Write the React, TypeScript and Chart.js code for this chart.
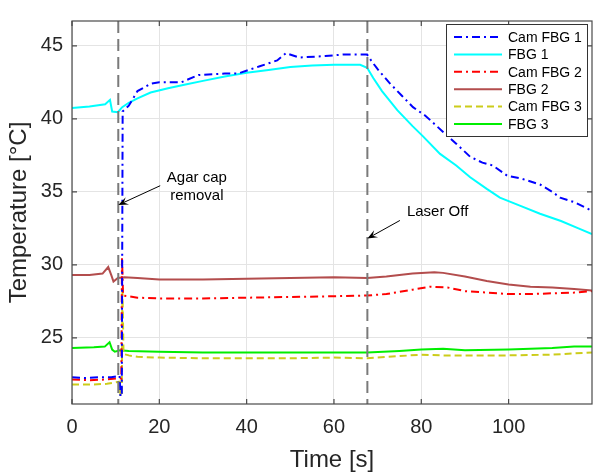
import React, { useEffect, useRef } from "react";
import { Chart, registerables } from "chart.js";
Chart.register(...registerables);

// ---- data (time [s], temperature [°C]) ----
const tCam1 = [0, 3, 6, 9, 10.9, 11.1, 11.4, 11.6, 13, 15, 18, 20, 25, 29, 35, 38, 43, 47, 49, 52, 58, 62, 67.6, 68.5, 70, 72.9, 75.5, 78.1, 81, 85, 88, 91.2, 94, 96.4, 99.7, 103, 107.2, 110, 111.8, 115, 119.1];
const vCam1 = [22.3, 22.25, 22.3, 22.3, 22.4, 21.0, 21.0, 40.5, 40.9, 41.9, 42.4, 42.5, 42.5, 43.0, 43.1, 43.1, 43.6, 44.0, 44.5, 44.2, 44.3, 44.4, 44.4, 44.0, 43.4, 42.4, 41.6, 40.8, 40.2, 39.1, 38.3, 37.4, 37.0, 36.8, 36.1, 35.9, 35.5, 35.0, 34.6, 34.3, 33.7];

const tFbg1 = [0, 4, 7.6, 8.7, 9.2, 10.5, 11.5, 13, 15, 18, 22, 26, 30, 35, 40, 45, 50, 55, 60, 66, 67.6, 69, 71, 74.5, 78, 80.4, 84.3, 88, 91.2, 95, 98, 103, 107.2, 112, 116, 119.1];
const vFbg1 = [40.75, 40.85, 41.0, 41.3, 40.5, 40.45, 40.8, 41.1, 41.4, 41.8, 42.1, 42.35, 42.6, 42.9, 43.15, 43.35, 43.55, 43.65, 43.7, 43.7, 43.5, 42.8, 41.9, 40.6, 39.5, 38.8, 37.6, 36.8, 36.0, 35.2, 34.6, 34.0, 33.5, 33.0, 32.5, 32.1];

const tCam2 = [0, 4, 8, 10.9, 11.3, 11.45, 11.7, 13, 15, 20, 30, 40, 50, 60, 67.6, 72, 78, 82, 86, 90, 95, 100, 105, 110, 115, 119.1];
const vCam2 = [22.15, 22.1, 22.15, 22.25, 22.2, 30.5, 27.9, 27.85, 27.75, 27.7, 27.7, 27.75, 27.8, 27.85, 27.9, 28.0, 28.3, 28.5, 28.45, 28.2, 28.1, 28.0, 28.0, 28.05, 28.1, 28.2];

const tFbg2 = [0, 4, 7, 8.3, 9.0, 9.5, 10.5, 12, 15, 20, 30, 40, 50, 60, 67.6, 72, 78, 83, 85, 90, 95, 100, 105, 110, 115, 119.1];
const vFbg2 = [29.3, 29.3, 29.4, 29.85, 29.3, 28.85, 29.1, 29.15, 29.1, 29.0, 29.0, 29.05, 29.1, 29.15, 29.1, 29.2, 29.4, 29.5, 29.45, 29.2, 28.9, 28.65, 28.5, 28.45, 28.35, 28.25];

const tCam3 = [0, 4, 8, 10.9, 11.1, 11.4, 11.55, 11.8, 13, 15, 20, 30, 40, 50, 60, 67.6, 75, 80, 85, 90, 100, 110, 119.1];
const vCam3 = [21.8, 21.8, 21.85, 22.0, 21.0, 21.0, 28.5, 23.9, 23.8, 23.7, 23.65, 23.6, 23.6, 23.6, 23.65, 23.6, 23.75, 23.85, 23.8, 23.8, 23.8, 23.85, 24.0];

const tFbg3 = [0, 5, 7.5, 8.6, 9.2, 9.8, 11, 13, 20, 30, 40, 50, 60, 67.6, 75, 80, 85, 90, 100, 110, 115, 119.1];
const vFbg3 = [24.3, 24.35, 24.4, 24.7, 24.2, 24.05, 24.15, 24.1, 24.05, 24.0, 24.0, 24.0, 24.0, 24.0, 24.1, 24.2, 24.25, 24.15, 24.2, 24.3, 24.4, 24.4];

const seriesNames = ["Cam FBG 1", "FBG 1", "Cam FBG 2", "FBG 2", "Cam FBG 3", "FBG 3"];
const xTicks = [0, 20, 40, 60, 80, 100];
const yTicks = [25, 30, 35, 40, 45];
const X_MIN = 0, X_MAX = 119.1, Y_MIN = 20.47, Y_MAX = 46.7;

// event markers (time [s])
const agarTime = 10.6;
const laserOffTime = 67.65;

const FONT = "'Liberation Sans', Arial, Helvetica, sans-serif";
const AXIS = "#262626";
const GRID = "#e4e4e4";

const colors = ["#0000ff", "#00ffff", "#ff0000", "#b34d4d", "#cccc1a", "#00ee00"];
const dashes: number[][] = [[8, 4, 2, 4], [], [8, 4, 2, 4], [], [7, 4], []];

const pts = (t: number[], v: number[]) => t.map((x, i) => ({ x, y: v[i] }));
const seriesData = [pts(tCam1, vCam1), pts(tFbg1, vFbg1), pts(tCam2, vCam2), pts(tFbg2, vFbg2), pts(tCam3, vCam3), pts(tFbg3, vFbg3)];

function arrow(ctx: CanvasRenderingContext2D, x1: number, y1: number, x2: number, y2: number) {
  const ang = Math.atan2(y2 - y1, x2 - x1);
  const L = 10, W = 4;
  ctx.beginPath();
  ctx.moveTo(x1, y1);
  ctx.lineTo(x2 - Math.cos(ang) * L * 0.6, y2 - Math.sin(ang) * L * 0.6);
  ctx.stroke();
  ctx.beginPath();
  ctx.moveTo(x2, y2);
  ctx.lineTo(x2 - Math.cos(ang) * L - Math.sin(ang) * W, y2 - Math.sin(ang) * L + Math.cos(ang) * W);
  ctx.lineTo(x2 - Math.cos(ang) * L * 0.6, y2 - Math.sin(ang) * L * 0.6);
  ctx.lineTo(x2 - Math.cos(ang) * L + Math.sin(ang) * W, y2 - Math.sin(ang) * L - Math.cos(ang) * W);
  ctx.closePath();
  ctx.fill();
}

const overlay = {
  id: "overlay",
  afterDatasetsDraw(chart: any) {
    const { ctx, chartArea: ca, scales } = chart;
    const xs = scales.x, ys = scales.y;
    ctx.save();
    // event dashed lines
    ctx.strokeStyle = "#7a7a7a";
    ctx.lineWidth = 2;
    ctx.setLineDash([12, 6]);
    for (const t of [agarTime, laserOffTime]) {
      const px = xs.getPixelForValue(t);
      ctx.beginPath();
      ctx.moveTo(px, ca.top);
      ctx.lineTo(px, ca.bottom);
      ctx.stroke();
    }
    ctx.setLineDash([]);

    // box
    ctx.strokeStyle = "#4a4a4a";
    ctx.lineWidth = 1.2;
    ctx.strokeRect(ca.left, ca.top, ca.right - ca.left, ca.bottom - ca.top);
    // inward ticks
    const tl = 5;
    for (const v of xTicks) {
      const px = xs.getPixelForValue(v);
      ctx.beginPath();
      ctx.moveTo(px, ca.bottom); ctx.lineTo(px, ca.bottom - tl);
      ctx.moveTo(px, ca.top); ctx.lineTo(px, ca.top + tl);
      ctx.stroke();
    }
    for (const v of yTicks) {
      const py = ys.getPixelForValue(v);
      ctx.beginPath();
      ctx.moveTo(ca.left, py); ctx.lineTo(ca.left + tl, py);
      ctx.moveTo(ca.right, py); ctx.lineTo(ca.right - tl, py);
      ctx.stroke();
    }

    // annotations
    ctx.fillStyle = "#000";
    ctx.strokeStyle = "#000";
    ctx.lineWidth = 1;
    arrow(ctx, xs.getPixelForValue(20.2), ys.getPixelForValue(35.42), xs.getPixelForValue(agarTime), ys.getPixelForValue(34.1));
    arrow(ctx, xs.getPixelForValue(75.1), ys.getPixelForValue(33.04), xs.getPixelForValue(laserOffTime), ys.getPixelForValue(31.8));
    ctx.font = `15px ${FONT}`;
    ctx.textAlign = "center";
    ctx.textBaseline = "middle";
    ctx.fillText("Agar cap", xs.getPixelForValue(28.6), ys.getPixelForValue(35.95));
    ctx.fillText("removal", xs.getPixelForValue(28.6), ys.getPixelForValue(34.7));
    ctx.textAlign = "left";
    ctx.fillText("Laser Off", xs.getPixelForValue(76.7), ys.getPixelForValue(33.6));

    // legend
    const bw = 141, bh = 112;
    const bx = ca.right - 5 - bw, by = ca.top + 3;
    ctx.fillStyle = "#fff";
    ctx.fillRect(bx, by, bw, bh);
    ctx.strokeStyle = "#333";
    ctx.lineWidth = 1;
    ctx.strokeRect(bx + 0.5, by + 0.5, bw, bh);
    ctx.font = `14px ${FONT}`;
    ctx.textAlign = "left";
    ctx.textBaseline = "middle";
    seriesNames.forEach((name, i) => {
      const yy = by + 13 + i * 17.4;
      ctx.strokeStyle = colors[i];
      ctx.lineWidth = 2;
      ctx.setLineDash(dashes[i]);
      ctx.beginPath();
      ctx.moveTo(bx + 8, yy);
      ctx.lineTo(bx + 56, yy);
      ctx.stroke();
      ctx.setLineDash([]);
      ctx.fillStyle = "#000";
      ctx.fillText(name, bx + 62, yy + 1);
    });
    ctx.restore();
  },
};

export default function App() {
  const ref = useRef<HTMLCanvasElement>(null);
  useEffect(() => {
    document.body.style.margin = "0";
    const chart = new Chart(ref.current!, {
      type: "line",
      data: {
        datasets: seriesNames.map((name, i) => ({
          label: name,
          data: seriesData[i],
          borderColor: colors[i],
          backgroundColor: colors[i],
          borderWidth: 2,
          borderDash: dashes[i],
          pointRadius: 0,
          tension: 0,
          fill: false,
        })),
      },
      options: {
        animation: false,
        responsive: true,
        maintainAspectRatio: false,
        layout: { padding: { top: 7, right: 1, left: 0, bottom: 0 } },
        plugins: { legend: { display: false }, tooltip: { enabled: false } },
        scales: {
          x: {
            type: "linear",
            min: X_MIN,
            max: X_MAX,
            afterBuildTicks: (s: any) => { s.ticks = xTicks.map((v) => ({ value: v })); },
            afterFit: (s: any) => { s.height = 72; },
            ticks: { font: { size: 20, family: FONT }, color: AXIS, padding: 11, maxRotation: 0, autoSkip: false },
            grid: { color: GRID, drawTicks: false },
            border: { display: false },
            title: { display: true, text: "Time [s]", font: { size: 24, family: FONT }, color: AXIS, padding: { top: 0, bottom: 1 } },
          },
          y: {
            type: "linear",
            min: Y_MIN,
            max: Y_MAX,
            afterBuildTicks: (s: any) => { s.ticks = yTicks.map((v) => ({ value: v })); },
            afterFit: (s: any) => { s.width = 72; },
            ticks: { font: { size: 20, family: FONT }, color: AXIS, padding: 9 },
            grid: { color: GRID, drawTicks: false },
            border: { display: false },
            title: { display: true, text: "Temperature [°C]", font: { size: 24, family: FONT }, color: AXIS, padding: { top: 5, bottom: 0 } },
          },
        },
      },
      plugins: [overlay],
    });
    return () => chart.destroy();
  }, []);
  return (
    <div style={{ position: "absolute", left: 0, top: 0, width: 593, height: 476 }}>
      <canvas ref={ref} />
    </div>
  );
}
